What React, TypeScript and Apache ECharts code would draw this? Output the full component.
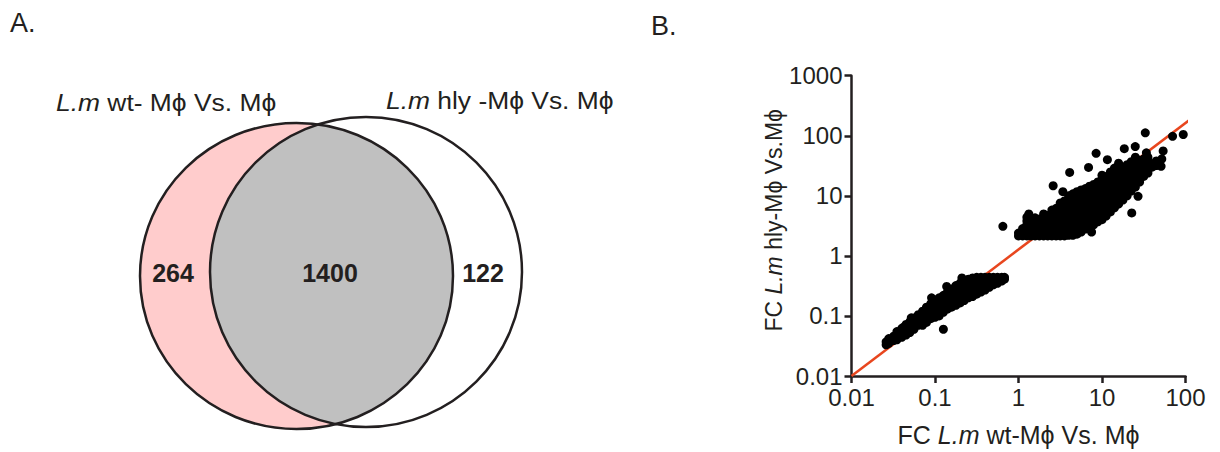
import React, { useEffect, useRef } from "react";
import * as echarts from "echarts";

// ---------- Venn data ----------
const vennCounts = [264, 1400, 122]; // only wt, both, only hly
const vennSetNames = ["L.m", "L.m"];
const vennSetSuffix = [" wt- Mϕ Vs. Mϕ", " hly -Mϕ Vs. Mϕ"];
const panelLabels = ["A.", "B."];

// ---------- Scatter data (fold change, log-log) ----------
const xTickValues = [0.01, 0.1, 1, 10, 100];
const yTickValues = [0.01, 0.1, 1, 10, 100, 1000];
const xAxisTitle = "FC {i|L.m} wt-Mϕ Vs. Mϕ";
const yAxisTitle = "FC {i|L.m} hly-Mϕ Vs.Mϕ";

// upregulated genes: [wt FC, list of hly FC values at that wt FC]
const upColumns: [number, number[]][] = [
  [1.0, [2.15, 2.4]],
  [1.12, [2.15, 2.5, 2.85]],
  [1.26, [2.15, 2.5, 2.9, 3.3, 3.8, 4.4]],
  [1.33, [5.0]],
  [1.41, [2.15, 2.45, 2.8, 3.2, 3.6]],
  [1.58, [2.15, 2.5, 2.9, 3.3, 3.8, 4.3]],
  [1.78, [2.15, 2.45, 2.8, 3.2, 3.6, 4.1]],
  [2.0, [2.15, 2.5, 2.9, 3.3, 3.8, 4.4, 5.0]],
  [2.24, [2.15, 2.45, 2.8, 3.2, 3.6, 4.1, 4.7]],
  [2.51, [2.15, 2.5, 2.9, 3.3, 3.8, 4.4, 5.0, 5.8]],
  [2.82, [2.15, 2.45, 2.8, 3.2, 3.6, 4.1, 4.7, 5.4, 6.2]],
  [3.16, [2.15, 2.5, 2.9, 3.3, 3.8, 4.4, 5.0, 5.8, 6.7, 7.6]],
  [3.55, [2.15, 2.45, 2.8, 3.2, 3.6, 4.1, 4.7, 5.4, 6.2, 7.1, 8.2]],
  [3.98, [2.2, 2.5, 2.9, 3.3, 3.8, 4.4, 5.0, 5.8, 6.7, 7.6, 8.8, 10]],
  [4.47, [2.2, 2.45, 2.8, 3.2, 3.6, 4.1, 4.7, 5.4, 6.2, 7.1, 8.2, 9.4, 10.8]],
  [5.01, [2.3, 2.6, 2.9, 3.3, 3.8, 4.4, 5.0, 5.8, 6.7, 7.6, 8.8, 10, 11.7]],
  [5.62, [2.5, 2.8, 3.2, 3.6, 4.1, 4.7, 5.4, 6.2, 7.1, 8.2, 9.4, 10.8, 12.5]],
  [6.31, [2.8, 3.3, 3.8, 4.4, 5.0, 5.8, 6.7, 7.6, 8.8, 10, 11.5, 13.2]],
  [7.08, [3.0, 3.5, 4.1, 4.7, 5.4, 6.2, 7.1, 8.2, 9.4, 10.8, 12.5, 14.5]],
  [7.94, [3.3, 3.8, 4.4, 5.0, 5.8, 6.7, 7.6, 8.8, 10, 11.5, 13.2, 15.5]],
  [8.91, [3.7, 4.2, 4.8, 5.5, 6.3, 7.2, 8.3, 9.5, 11, 12.6, 14.5, 17]],
  [10, [4.0, 4.6, 5.3, 6.1, 7.0, 8.0, 9.2, 10.6, 12.2, 14, 16, 19, 22]],
  [11.2, [4.6, 5.3, 6.1, 7.0, 8.0, 9.2, 10.6, 12.2, 14, 16, 18.5, 21]],
  [12.6, [5.4, 6.2, 7.1, 8.2, 9.4, 10.8, 12.4, 14.3, 16.5, 19, 22, 25]],
  [14.1, [6.3, 7.2, 8.3, 9.5, 11, 12.6, 14.5, 16.6, 19, 22, 25.5, 29]],
  [15.8, [7.4, 8.5, 9.8, 11.2, 12.9, 14.8, 17, 19.5, 22.5, 26, 30, 35]],
  [17.8, [8.5, 9.8, 11.2, 12.9, 14.8, 17, 19.5, 22.5, 26, 30]],
  [20, [10, 11.5, 13.2, 15.2, 17.5, 20, 23, 26.5, 33]],
  [22.4, [12, 14, 18.5, 21, 28, 32, 37]],
  [25.1, [14, 16.5, 22, 25, 33, 38, 44]],
  [28.2, [17, 20, 26, 30, 39]],
  [31.6, [21, 31, 35, 41]],
  [35.5, [24, 28, 37, 44]],
  [39.8, [30, 34]],
  [44.7, [32, 38]],
];

// downregulated genes
const downColumns: [number, number[]][] = [
  [0.68, [0.44, 0.41]],
  [0.63, [0.44, 0.38]],
  [0.56, [0.44, 0.39, 0.35]],
  [0.5, [0.44, 0.38, 0.33]],
  [0.447, [0.44, 0.38, 0.33, 0.3]],
  [0.398, [0.44, 0.39, 0.34, 0.3, 0.27]],
  [0.355, [0.44, 0.38, 0.33, 0.29, 0.25]],
  [0.316, [0.44, 0.39, 0.34, 0.3, 0.26, 0.23]],
  [0.282, [0.43, 0.38, 0.33, 0.29, 0.25, 0.21]],
  [0.251, [0.41, 0.36, 0.31, 0.27, 0.23, 0.2]],
  [0.224, [0.38, 0.33, 0.29, 0.25, 0.21, 0.18]],
  [0.2, [0.35, 0.31, 0.27, 0.23, 0.19, 0.165]],
  [0.178, [0.32, 0.28, 0.24, 0.2, 0.17, 0.15]],
  [0.158, [0.28, 0.24, 0.2, 0.17, 0.14]],
  [0.141, [0.25, 0.21, 0.18, 0.15, 0.13]],
  [0.126, [0.22, 0.19, 0.16, 0.13, 0.115]],
  [0.112, [0.2, 0.17, 0.14, 0.12, 0.1]],
  [0.1, [0.18, 0.15, 0.125, 0.105, 0.095]],
  [0.089, [0.16, 0.13, 0.11, 0.09]],
  [0.079, [0.14, 0.115, 0.095, 0.078]],
  [0.071, [0.12, 0.1, 0.082, 0.07]],
  [0.063, [0.105, 0.088, 0.07]],
  [0.056, [0.092, 0.075, 0.06]],
  [0.05, [0.08, 0.065, 0.053]],
  [0.045, [0.072, 0.058, 0.048]],
  [0.04, [0.062, 0.05, 0.044]],
  [0.035, [0.055, 0.045, 0.04]],
  [0.032, [0.046, 0.039]],
  [0.028, [0.042, 0.035]],
  [0.026, [0.037, 0.033]],
];

// scattered individual genes
const outlierPoints: [number, number][] = [
  [33, 112], [70, 98], [94, 105], [25, 66], [18.5, 61], [8.5, 51], [54, 56],
  [34, 52], [51, 31], [52, 41], [11.6, 40], [6.9, 29.7], [4.1, 24.5],
  [2.6, 14.7], [3.4, 11.7], [15.7, 7.3], [27, 9.8], [22.7, 5.2], [7.5, 2.5],
  [0.65, 3.1], [0.21, 0.43], [0.138, 0.31], [0.126, 0.06], [0.091, 0.2],
  [0.052, 0.093], [0.042, 0.065],
];

// regression line (extends past the axis end)
const fitLine: [number, number][] = [
  [0.01, 0.01],
  [260, 445],
];

const FONT = "'Liberation Sans', Arial, Helvetica, sans-serif";
const INK = "#231f20";

function ellipseIntersections(a: any, b: any) {
  const pts: { x: number; y: number }[] = [];
  const f = (t: number) => {
    const x = a.cx + a.rx * Math.cos(t);
    const y = a.cy + a.ry * Math.sin(t);
    return ((x - b.cx) / b.rx) ** 2 + ((y - b.cy) / b.ry) ** 2 - 1;
  };
  const N = 7200;
  let prevT = -Math.PI;
  let prev = f(prevT);
  for (let i = 1; i <= N; i++) {
    const t = -Math.PI + (2 * Math.PI * i) / N;
    const v = f(t);
    if ((prev <= 0 && v > 0) || (prev > 0 && v <= 0)) {
      const tt = prevT + ((t - prevT) * prev) / (prev - v);
      pts.push({ x: a.cx + a.rx * Math.cos(tt), y: a.cy + a.ry * Math.sin(tt) });
    }
    prev = v;
    prevT = t;
  }
  pts.sort((p, q) => p.y - q.y);
  return [pts[0], pts[pts.length - 1]];
}

export default function App() {
  const ref = useRef<HTMLDivElement>(null);

  useEffect(() => {
    document.body.style.margin = "0";
    if (!ref.current) return;

    const L = { cx: 296.5, cy: 276, rx: 156.5, ry: 153 };
    const R = { cx: 366, cy: 272, rx: 156, ry: 155 };
    const [top, bot] = ellipseIntersections(L, R);
    const lensD =
      `M ${top.x} ${top.y} A ${R.rx} ${R.ry} 0 0 0 ${bot.x} ${bot.y} ` +
      `A ${L.rx} ${L.ry} 0 0 0 ${top.x} ${top.y} Z`;
    echarts.graphic.registerShape("vennLens", echarts.graphic.extendPath(lensD, {}));

    const upData: number[][] = [];
    upColumns.forEach(([x, ys]) => ys.forEach((y) => upData.push([x, y])));
    const downData: number[][] = [];
    downColumns.forEach(([x, ys]) => ys.forEach((y) => downData.push([x, y])));

    const chart = echarts.init(ref.current, undefined, { renderer: "svg" });

    const titleRich = {
      i: { fontStyle: "italic", fontSize: 24, fontFamily: FONT, fill: INK, color: INK },
      n: { fontSize: 24, fontFamily: FONT, fill: INK, color: INK },
    };

    const fmt = (v: number) => String(Number(v.toPrecision(3)));
    const dotStyle = { color: "#000000", opacity: 1 };

    chart.setOption({
      animation: false,
      backgroundColor: "#ffffff",
      grid: { left: 851.5, right: 34.5, top: 75.7, bottom: 73.3, containLabel: false },
      xAxis: {
        type: "log",
        logBase: 10,
        min: xTickValues[0],
        max: xTickValues[xTickValues.length - 1],
        splitNumber: xTickValues.length - 1,
        name: xAxisTitle,
        nameLocation: "middle",
        nameGap: 46,
        nameTextStyle: {
          fontSize: 25,
          fontFamily: FONT,
          color: INK,
          rich: { i: { fontStyle: "italic", fontSize: 25, fontFamily: FONT, color: INK } },
        },
        axisLine: { show: true, onZero: false, lineStyle: { color: INK, width: 2.5 } },
        axisTick: { show: true, length: 7, lineStyle: { color: INK, width: 2.5 } },
        minorTick: { show: false },
        splitLine: { show: false },
        axisLabel: { fontSize: 24, fontFamily: FONT, color: INK, margin: 9, formatter: fmt },
      },
      yAxis: {
        type: "log",
        logBase: 10,
        min: yTickValues[0],
        max: yTickValues[yTickValues.length - 1],
        splitNumber: yTickValues.length - 1,
        name: yAxisTitle,
        nameLocation: "middle",
        nameGap: 62,
        nameRotate: 90,
        nameTextStyle: {
          fontSize: 23,
          fontFamily: FONT,
          color: INK,
          padding: [0, 0, 0, 11],
          rich: { i: { fontStyle: "italic", fontSize: 23, fontFamily: FONT, color: INK } },
        },
        axisLine: { show: true, onZero: false, lineStyle: { color: INK, width: 2.5 } },
        axisTick: { show: true, length: 7, lineStyle: { color: INK, width: 2.5 } },
        minorTick: { show: false },
        splitLine: { show: false },
        axisLabel: { fontSize: 24, fontFamily: FONT, color: INK, margin: 9, formatter: fmt },
      },
      series: [
        {
          type: "line",
          data: fitLine,
          symbol: "none",
          clip: false,
          z: 1,
          lineStyle: { color: "#e8461e", width: 2.5 },
          silent: true,
        },
        {
          type: "scatter",
          data: upData,
          symbol: "circle",
          symbolSize: 9,
          itemStyle: dotStyle,
          z: 3,
        },
        {
          type: "scatter",
          data: downData,
          symbol: "circle",
          symbolSize: 9,
          itemStyle: dotStyle,
          z: 3,
        },
        {
          type: "scatter",
          data: outlierPoints,
          symbol: "circle",
          symbolSize: 9,
          itemStyle: dotStyle,
          z: 3,
        },
      ],
      graphic: [
        {
          type: "ellipse",
          z: 1,
          shape: L,
          style: { fill: "#ffcccc", stroke: "none" },
        },
        {
          type: "vennLens",
          z: 2,
          style: { fill: "#c0c0c0", stroke: "none" },
        },
        {
          type: "ellipse",
          z: 3,
          shape: L,
          style: { fill: "none", stroke: INK, lineWidth: 2.5 },
        },
        {
          type: "ellipse",
          z: 3,
          shape: R,
          style: { fill: "none", stroke: INK, lineWidth: 2.5 },
        },
        {
          type: "text",
          z: 4,
          x: 173,
          y: 273,
          style: {
            text: String(vennCounts[0]),
            font: `bold 25px ${FONT}`,
            fill: INK,
            align: "center",
            verticalAlign: "middle",
          },
        },
        {
          type: "text",
          z: 4,
          x: 330,
          y: 273,
          style: {
            text: String(vennCounts[1]),
            font: `bold 25px ${FONT}`,
            fill: INK,
            align: "center",
            verticalAlign: "middle",
          },
        },
        {
          type: "text",
          z: 4,
          x: 483,
          y: 273,
          style: {
            text: String(vennCounts[2]),
            font: `bold 25px ${FONT}`,
            fill: INK,
            align: "center",
            verticalAlign: "middle",
          },
        },
        {
          type: "text",
          z: 4,
          x: 56,
          y: 102,
          scaleX: 1.1,
          style: {
            text: `{i|${vennSetNames[0]}}{n|${vennSetSuffix[0]}}`,
            rich: titleRich,
            font: `24px ${FONT}`,
            fill: INK,
            align: "left",
            verticalAlign: "middle",
          },
        },
        {
          type: "text",
          z: 4,
          x: 386,
          y: 100,
          scaleX: 1.1,
          style: {
            text: `{i|${vennSetNames[1]}}{n|${vennSetSuffix[1]}}`,
            rich: titleRich,
            font: `24px ${FONT}`,
            fill: INK,
            align: "left",
            verticalAlign: "middle",
          },
        },
        {
          type: "text",
          z: 4,
          x: 10,
          y: 23,
          style: {
            text: panelLabels[0],
            font: `27px ${FONT}`,
            fill: INK,
            align: "left",
            verticalAlign: "middle",
          },
        },
        {
          type: "text",
          z: 4,
          x: 651,
          y: 26,
          style: {
            text: panelLabels[1],
            font: `27px ${FONT}`,
            fill: INK,
            align: "left",
            verticalAlign: "middle",
          },
        },
      ],
    });

    return () => {
      chart.dispose();
    };
  }, []);

  return <div ref={ref} style={{ width: 1220, height: 452 }} />;
}
